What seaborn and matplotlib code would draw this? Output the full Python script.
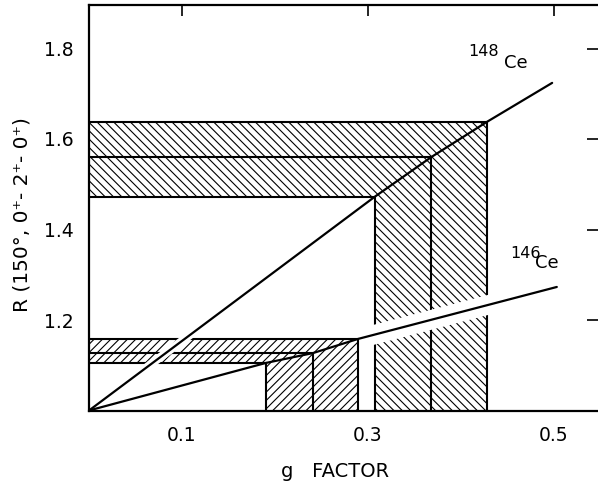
import matplotlib
matplotlib.use("Agg")
import matplotlib.pyplot as plt
import seaborn as sns
import pandas as pd
from matplotlib.patches import Rectangle

# ---- data ----
band_g_148 = [0.307, 0.368, 0.428]
band_r_148 = [1.472, 1.560, 1.638]
band_g_146 = [0.190, 0.241, 0.289]
band_r_146 = [1.105, 1.127, 1.158]

line_g_148 = [0.0, 0.307, 0.368, 0.428, 0.498]
line_r_148 = [1.0, 1.472, 1.560, 1.638, 1.724]
line_g_146 = [0.0, 0.190, 0.241, 0.289, 0.503]
line_r_146 = [1.0, 1.105, 1.127, 1.158, 1.273]

xticks = [0.1, 0.3, 0.5]
xticklabels = ["0.1", "0.3", "0.5"]
yticks = [1.2, 1.4, 1.6, 1.8]
yticklabels = ["1.2", "1.4", "1.6", "1.8"]

sns.set_theme(style="white")
plt.rcParams["font.family"] = ["DejaVu Sans"]
plt.rcParams["hatch.linewidth"] = 0.8

W, H = 598, 484
fig = plt.figure(figsize=(W / 100, H / 100), dpi=100)
ax = fig.add_axes([89 / W, (H - 410.5) / H, (W - 89) / W, (410.5 - 4.5) / H])
ax.set_xlim(0, 509 / 930)
ax.set_ylim(1.0, 1.0 + 406 / 452.5)
y0 = 1.0


def draw_band(gs, rs, hatch):
    px = [0, gs[2], gs[2], gs[0], gs[0], 0]
    py = [rs[2], rs[2], y0, y0, rs[0], rs[0]]
    ax.fill(px, py, facecolor="none", edgecolor="black", hatch=hatch,
            linewidth=0, zorder=1)
    for gi, ri in zip(gs, rs):
        ax.plot([0, gi, gi], [ri, ri, y0], color="black", lw=1.5, zorder=2,
                solid_joinstyle="miter")


draw_band(band_g_146, band_r_146, "////")
draw_band(band_g_148, band_r_148, "\\\\\\\\")

# white margins where each curve crosses the other nucleus' bands
w148, = ax.plot(line_g_148, line_r_148, color="white", lw=6, zorder=3)
w148.set_clip_path(Rectangle((0.02, 1.05), 0.2, 0.25, transform=ax.transData))
w146, = ax.plot(line_g_146, line_r_146, color="white", lw=14, zorder=3)
w146.set_clip_path(Rectangle((0.297, 1.05), 0.3, 0.4, transform=ax.transData))

df = pd.concat([
    pd.DataFrame({"g": line_g_148, "R": line_r_148, "nuc": "148Ce"}),
    pd.DataFrame({"g": line_g_146, "R": line_r_146, "nuc": "146Ce"}),
])
sns.lineplot(data=df, x="g", y="R", units="nuc", estimator=None, sort=False,
             color="black", lw=1.6, ax=ax, zorder=4, legend=False)

# isotope labels
ax.text(0.4075, 1.7834, "148", fontsize=11.5, ha="left", va="baseline", color="black")
ax.text(0.4462, 1.7569, "Ce", fontsize=13, ha="left", va="baseline", color="black")
ax.text(0.4527, 1.337, "146", fontsize=11.5, ha="left", va="baseline", color="black")
ax.text(0.4796, 1.315, "Ce", fontsize=13, ha="left", va="baseline", color="black")

ax.set_xticks(xticks)
ax.set_xticklabels(xticklabels)
ax.set_yticks(yticks)
ax.set_yticklabels(yticklabels)
ax.tick_params(direction="in", length=8, width=1.2, top=True, right=True,
               labelsize=13.5, pad=11, colors="black")

for side in ["left", "bottom", "top"]:
    ax.spines[side].set_visible(True)
    ax.spines[side].set_color("black")
    ax.spines[side].set_linewidth(1.6)
ax.spines["right"].set_visible(False)

ax.set_xlabel("g   FACTOR", fontsize=14, color="black")
ax.xaxis.set_label_coords(0.483, -0.128)
ax.set_ylabel("R (150°, 0⁺- 2⁺- 0⁺)", fontsize=14.5, color="black")
ax.yaxis.set_label_coords(-0.112, 0.4815)

fig.savefig("out.png", dpi=100)
